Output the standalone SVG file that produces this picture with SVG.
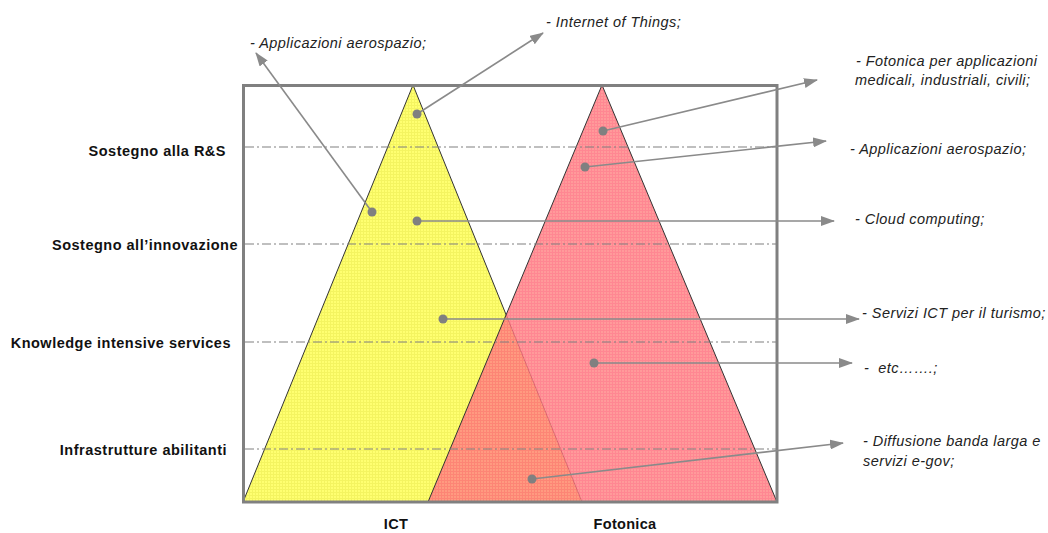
<svg xmlns="http://www.w3.org/2000/svg" width="1048" height="533" viewBox="0 0 1048 533">
<style>
.row{font-family:"Liberation Sans",Arial,sans-serif;font-weight:bold;font-size:14.5px;letter-spacing:0.5px;fill:#111;text-anchor:end}
.col{font-family:"Liberation Sans",Arial,sans-serif;font-weight:bold;font-size:14.5px;letter-spacing:0.3px;fill:#111;text-anchor:middle}
.lbl{font-family:"Liberation Sans",Arial,sans-serif;font-style:italic;font-size:14.5px;letter-spacing:0.45px;fill:#222;white-space:pre}
.grid{stroke:#808080;stroke-width:1.2;stroke-dasharray:9 3 2 3;fill:none}
.conn line{stroke:#8a8a8a;stroke-width:1.6}
.dot{fill:#808080}
</style>
<defs>
<marker id="ah" markerUnits="userSpaceOnUse" markerWidth="14" markerHeight="10" refX="13" refY="5" orient="auto">
<path d="M0,0 L14,5 L0,10 Z" fill="#8a8a8a"/>
</marker>
<pattern id="gy" width="3" height="3" patternUnits="userSpaceOnUse">
<rect width="3" height="3" fill="#ffff70"/>
<path d="M0,0.5H3M0.5,0V3" stroke="#f4f460" stroke-width="1"/>
</pattern>
<pattern id="gr" width="3" height="3" patternUnits="userSpaceOnUse">
<rect width="3" height="3" fill="#ff8484"/>
<path d="M0,0.5H3M0.5,0V3" stroke="#ff6c7a" stroke-width="1"/>
</pattern>
</defs>
<rect width="1048" height="533" fill="#fff"/>
<g id="ict">
<polygon points="413,85 243,502 582,502" fill="url(#gy)" stroke="#333" stroke-width="1"/>
</g>
<g id="fotonica">
<polygon points="602,85 428,502 777,502" fill="url(#gr)" fill-opacity="0.82" stroke="#333" stroke-width="1"/>
</g>
<g id="gridlines">
<line class="grid" x1="245" y1="147" x2="777" y2="147"/>
<line class="grid" x1="245" y1="244" x2="777" y2="244"/>
<line class="grid" x1="245" y1="342" x2="777" y2="342"/>
<line class="grid" x1="245" y1="449" x2="777" y2="449"/>
</g>
<g id="frame">
<rect x="243.5" y="85.5" width="533.5" height="416.5" fill="none" stroke="#808080" stroke-width="3"/>
</g>
<g id="rows">
<text class="row" x="226" y="156">Sostegno alla R&amp;S</text>
<text class="row" x="238" y="250">Sostegno all’innovazione</text>
<text class="row" x="231" y="348">Knowledge intensive services</text>
<text class="row" x="227" y="455">Infrastrutture abilitanti</text>
</g>
<g id="cols">
<text class="col" x="396" y="529">ICT</text>
<text class="col" x="625" y="529">Fotonica</text>
</g>
<g id="labels">
<text class="lbl" x="250" y="48">- Applicazioni aerospazio;</text>
<text class="lbl" x="546" y="27">- Internet of Things;</text>
<text class="lbl" x="856" y="66">- Fotonica per applicazioni</text>
<text class="lbl" x="855" y="85">medicali, industriali, civili;</text>
<text class="lbl" x="850" y="154">- Applicazioni aerospazio;</text>
<text class="lbl" x="855" y="224">- Cloud computing;</text>
<text class="lbl" x="862" y="318">- Servizi ICT per il turismo;</text>
<text class="lbl" x="864" y="373" xml:space="preserve">-  etc…….;</text>
<text class="lbl" x="863" y="446">- Diffusione banda larga e</text>
<text class="lbl" x="863" y="466">servizi e-gov;</text>
</g>
<g id="connectors" class="conn">
<line x1="372" y1="212" x2="256" y2="53" marker-end="url(#ah)"/>
<line x1="417" y1="114" x2="543" y2="33" marker-end="url(#ah)"/>
<line x1="603" y1="131" x2="817" y2="80" marker-end="url(#ah)"/>
<line x1="585" y1="167" x2="826" y2="141" marker-end="url(#ah)"/>
<line x1="417" y1="221" x2="834" y2="221" marker-end="url(#ah)"/>
<line x1="443" y1="319" x2="859" y2="319" marker-end="url(#ah)"/>
<line x1="594" y1="363" x2="852" y2="363" marker-end="url(#ah)"/>
<line x1="532" y1="479" x2="843" y2="443" marker-end="url(#ah)"/>
<circle class="dot" cx="372" cy="212" r="4.5"/>
<circle class="dot" cx="417" cy="114" r="4.5"/>
<circle class="dot" cx="603" cy="131" r="4.5"/>
<circle class="dot" cx="585" cy="167" r="4.5"/>
<circle class="dot" cx="417" cy="221" r="4.5"/>
<circle class="dot" cx="443" cy="319" r="4.5"/>
<circle class="dot" cx="594" cy="363" r="4.5"/>
<circle class="dot" cx="532" cy="479" r="4.5"/>
</g>
</svg>
